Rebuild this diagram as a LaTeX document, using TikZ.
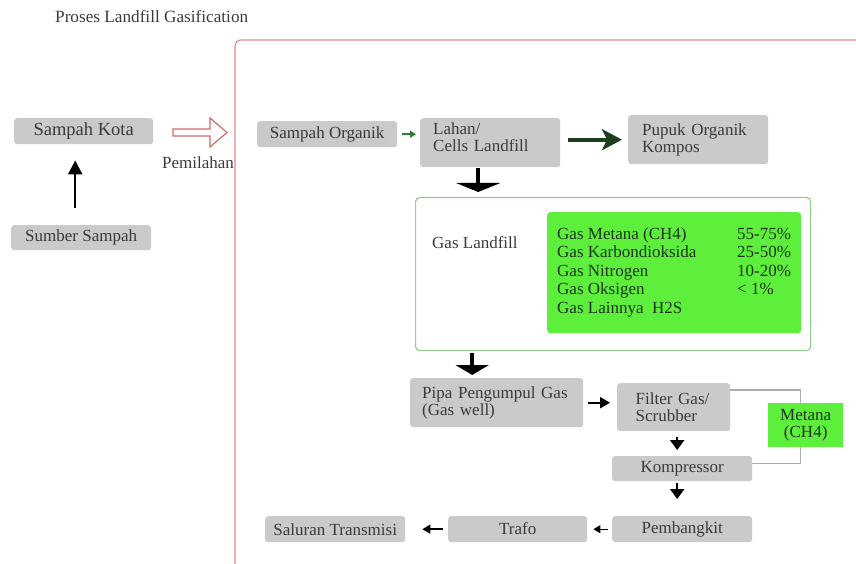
\documentclass[tikz,border=0pt]{standalone}
\usepackage{fontspec}
\setmainfont{Liberation Serif}
\usetikzlibrary{arrows.meta}
\definecolor{boxgray}{HTML}{CACACA}
\definecolor{txtgray}{HTML}{3A3A3A}
\definecolor{brightgreen}{HTML}{5EEE3C}
\definecolor{framered}{HTML}{E08A8A}
\definecolor{hollowred}{HTML}{D46A6A}
\definecolor{outgreen}{HTML}{90D090}
\definecolor{darkarrow}{HTML}{1E3E1E}
\definecolor{midgreen}{HTML}{2E7D32}
\definecolor{linegray}{HTML}{ABABAB}
\definecolor{gtext}{HTML}{1C341C}
\begin{document}
\begin{tikzpicture}[x=1pt,y=-1pt,
  font=\fontsize{17}{18}\selectfont,
  gbox/.style={fill=boxgray, rounded corners=3pt, anchor=north west, inner sep=0pt, text=txtgray, align=center},
  lbox/.style={gbox, align=left},
  blk/.style={draw=black, line width=2.2pt},
  thin/.style={draw=black, line width=1.4pt}]
\useasboundingbox (0,0) rectangle (856,564);

% title
\node[anchor=west, text=txtgray, inner sep=0pt, font=\fontsize{17.2}{18}\selectfont] (title) at (55,17) {Proses Landfill Gasification};

% red frame
\draw[framered, line width=1.2pt, rounded corners=6pt] (235,566) -- (235,40) -- (858,40);

% left part
\node[gbox, minimum width=139pt, minimum height=26pt, font=\fontsize{18.5}{20}\selectfont] (kota) at (14,118) {Sampah Kota};
\node[gbox, minimum width=140pt, minimum height=25pt] (sumber) at (11,225) {Sumber Sampah};
\draw[blk, -{Triangle[width=14pt,length=14pt]}] ([xshift=-6pt,yshift=17pt]sumber.north) -- ([xshift=-8.5pt,yshift=-16pt]kota.south);

% hollow arrow
\draw[hollowred, fill=white, line width=1.2pt, line join=miter]
  (173,129) -- (210,129) -- (210,118) -- (227,132.5) -- (210,147) -- (210,136) -- (173,136) -- cycle;
\node[anchor=west, text=txtgray, inner sep=0pt] (pemilahan) at (162,163) {Pemilahan};

% top row
\node[gbox, minimum width=140pt, minimum height=26pt] (organik) at (257,121) {Sampah Organik};
\node[lbox, minimum width=140pt, minimum height=49pt, inner xsep=13pt, text width=114pt] (lahan) at (420,118) {Lahan/\\[-1pt]Cells Landfill\rule[-11pt]{0pt}{11pt}};
\node[lbox, minimum width=140pt, minimum height=49pt, inner xsep=14pt, text width=112pt] (pupuk) at (628,115) {Pupuk Organik\\[-1pt]Kompos};

\draw[midgreen, line width=2pt, shorten <=5pt, shorten >=4pt, -{Triangle[width=7pt,length=6pt]}] (organik.east) -- (organik.east -| lahan.west);
\draw[darkarrow, line width=4pt, shorten <=8pt, shorten >=6pt, -{Stealth[width=21pt,length=20pt,inset=5pt]}] (lahan.east |- pupuk.west) -- (pupuk.west);

% gas landfill box
\node[draw=outgreen, line width=1.2pt, rounded corners=4pt, anchor=north west, minimum width=395pt, minimum height=153pt, inner sep=0pt] (gasbox) at (415,197) {};
\node[anchor=west, text=txtgray, inner sep=0pt] (gaslabel) at (432,243) {Gas Landfill};
\node[fill=brightgreen, rounded corners=3pt, anchor=north west, minimum width=251pt, minimum height=121pt, inner xsep=10pt, inner ysep=0pt, text=gtext, align=left] (komposisi) at (547,212)
  {\fontsize{17}{18.5}\selectfont\begin{tabular}{@{}p{180pt}@{}l@{}}
  Gas Metana (CH4) & 55-75\% \\
  Gas Karbondioksida & 25-50\% \\
  Gas Nitrogen & 10-20\% \\
  Gas Oksigen & < 1\% \\
  Gas Lainnya\ \ H2S & \\
  \end{tabular}};

\draw[black, line width=4.5pt, shorten <=1pt, shorten >=5pt, -{Triangle[width=44pt,length=9pt]}] ([xshift=-12pt]lahan.south) -- ([xshift=-12pt]lahan.south |- gasbox.north);

% lower part
\node[lbox, minimum width=173pt, minimum height=49pt, inner xsep=12pt, text width=149pt] (pipa) at (410,378) {Pipa Pengumpul Gas\\[-1pt](Gas well)};
\node[lbox, minimum width=113pt, minimum height=48pt, inner xsep=18.5pt, text width=76pt] (filter) at (617,383) {Filter Gas/\\[-1pt]Scrubber};
\node[fill=brightgreen, anchor=north west, minimum width=75pt, minimum height=44pt, inner sep=0pt, text=gtext, align=center] (metana) at (768,403) {Metana\\[-1pt](CH4)};
\node[gbox, minimum width=140pt, minimum height=25pt] (kompressor) at (612,456) {Kompressor};
\node[gbox, minimum width=140pt, minimum height=26pt] (pembangkit) at (612,516) {Pembangkit};
\node[gbox, minimum width=139pt, minimum height=26pt] (trafo) at (448,516) {\raisebox{2pt}{Trafo}};
\node[gbox, minimum width=140pt, minimum height=26pt] (saluran) at (265,516) {Saluran Transmisi};

\draw[black, line width=4.5pt, shorten <=2pt, shorten >=3pt, -{Triangle[width=33pt,length=10pt]}] ([xshift=-24.5pt]pipa.north |- gasbox.south) -- ([xshift=-24.5pt]pipa.north);
\draw[blk, line width=2pt, shorten <=5pt, shorten >=7pt, -{Triangle[width=11pt,length=10pt]}] (pipa.east) -- (pipa.east -| filter.west);
\draw[blk, shorten <=6pt, shorten >=6pt, -{Triangle[width=14pt,length=10pt]}] ([xshift=3.5pt]filter.south) -- ([xshift=3.5pt]filter.south |- kompressor.north);
\draw[blk, shorten <=2pt, shorten >=17pt, -{Triangle[width=14pt,length=10pt]}] ([xshift=-5pt]kompressor.south) -- ([xshift=-5pt]kompressor.south |- pembangkit.north);
\draw[thin, line width=1.3pt, shorten <=4pt, shorten >=6pt, -{Triangle[width=8pt,length=7pt]}] (pembangkit.west) -- (trafo.east);
\draw[thin, line width=1.5pt, shorten <=5pt, shorten >=17pt, -{Triangle[width=9pt,length=8pt]}] (trafo.west) -- (saluran.east);

% metana loop line
\draw[linegray, line width=1.2pt] ([yshift=-7pt]filter.north east) -| ([xshift=-5.5pt]metana.north);
\draw[linegray, line width=1.2pt] ([xshift=-5.5pt]metana.south) |- ([yshift=5.5pt]kompressor.east);
\end{tikzpicture}
\end{document}
